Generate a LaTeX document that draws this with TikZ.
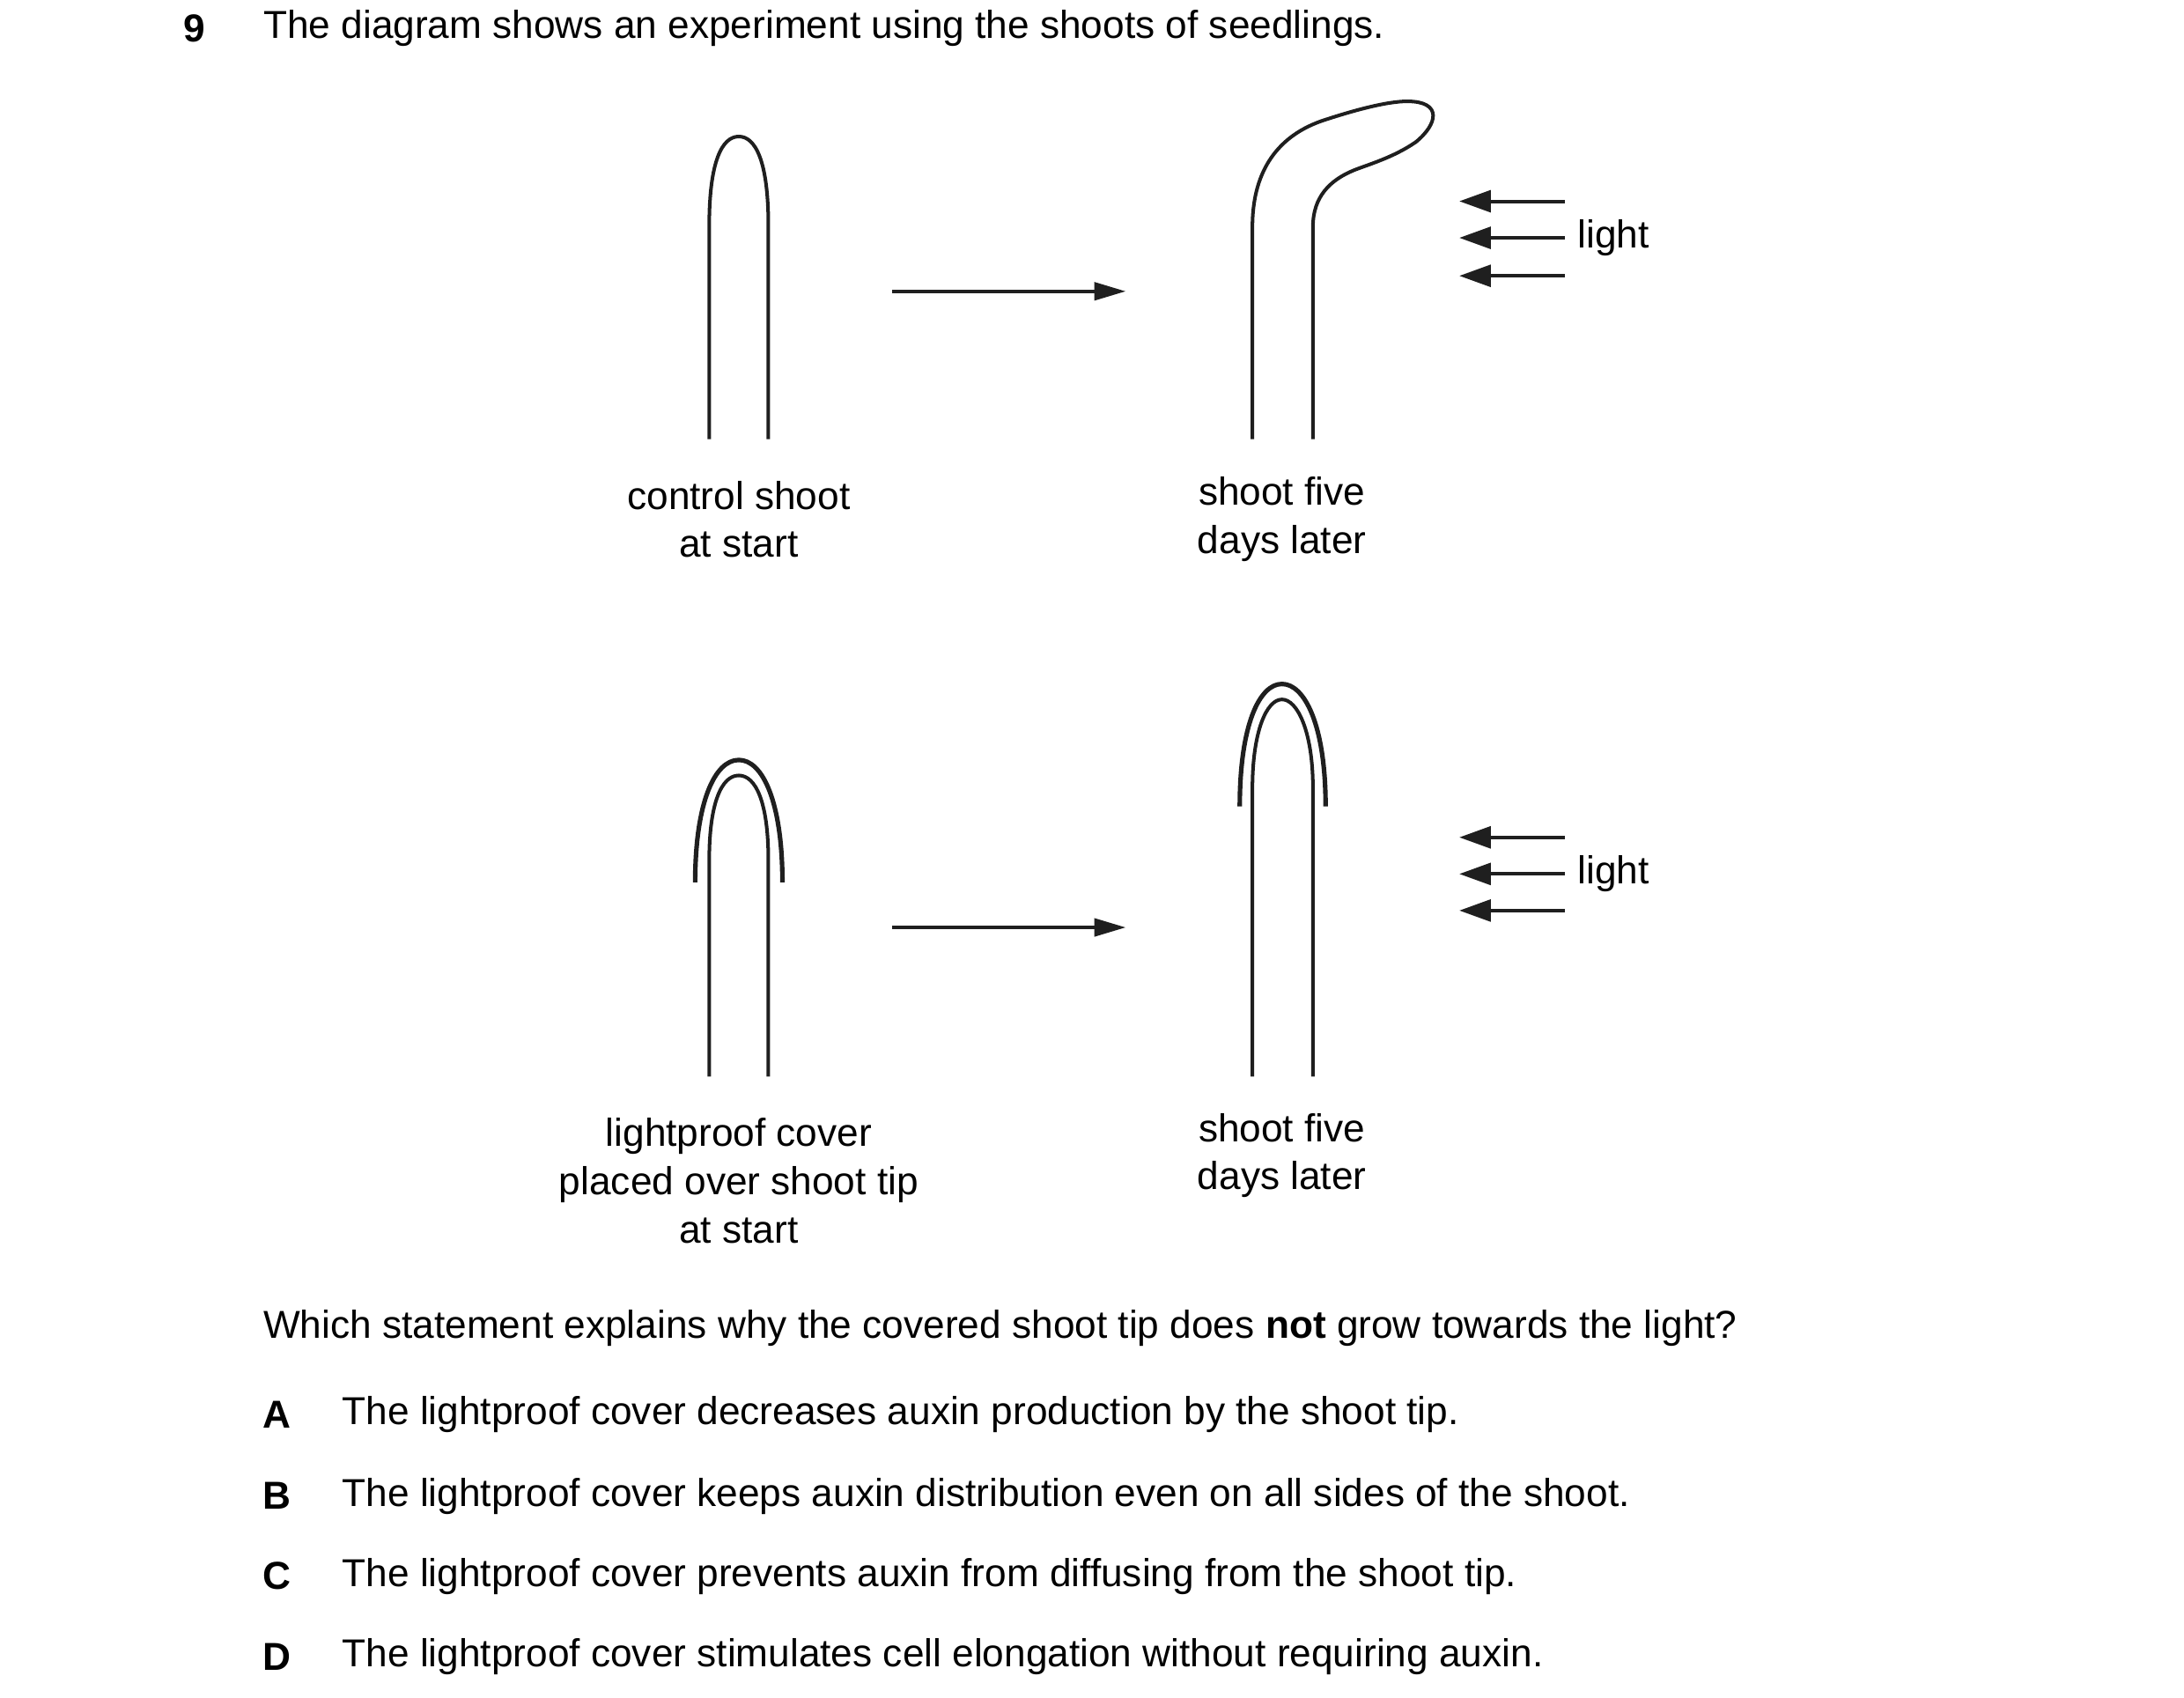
\documentclass[tikz,border=0pt]{standalone}
\usepackage{fontspec}
\setmainfont{Liberation Sans}
\usepackage{tikz}
\usetikzlibrary{arrows.meta}
\tikzset{
    txt/.style = {
      inner sep=0pt,
      font=\fontsize{19.8}{24.5}\selectfont
    },
    lbl/.style = {
      txt,
      align=center
    },
    shoot/.style = {
      line width=1.8pt,
      color=black!88
    },
    cover/.style = {
      line width=2.3pt,
      color=black!88
    },
    later/.style = {
      line width=1.8pt,
      color=black!88,
      -{Triangle[length=16pt,width=9pt]}
    },
    ray/.style = {
      line width=1.8pt,
      color=black!88,
      -{Triangle[length=16pt,width=11pt]}
    }
}
\begin{document}
\begin{tikzpicture}[x=0.0099in,y=-0.0099in]
  \useasboundingbox (0,0) rectangle (1552,1206);

  % heading
  \node[txt, font=\fontsize{19.8}{24.5}\selectfont\bfseries] (num) at (138,20) {9};
  \node[txt, anchor=west] (title) at (187,20) {The diagram shows an experiment using the shoots of seedlings.};

  % top row
  \draw[shoot] (504,312) -- (504,160) .. controls (504,115) and (513,97) .. (525,97)
    .. controls (537,97) and (546,115) .. (546,160) -- (546,312);
  \coordinate (a1) at (634,207);
  \coordinate (a2) at (800,207);
  \draw[later] (a1) -- (a2);
  \draw[shoot] (890,312) -- (890,161) .. controls (890,125) and (905,98) .. (939,86)
    .. controls (960,79) and (985,72) .. (1000,72)
    .. controls (1025,72) and (1022,88) .. (1006,101)
    .. controls (990,112) and (972,117) .. (962,121)
    .. controls (945,128) and (933,140) .. (933,161) -- (933,312);
  \foreach \y [count=\i] in {143,169,196} {
    \coordinate (r\i) at (1112,\y);
    \coordinate (t\i) at (1037,\y);
    \draw[ray] (r\i) -- (t\i);
  }
  \node[txt, anchor=west] (light1) at (1121,169) {light};
  \node[lbl] (ctrl) at (525,369) {control shoot\\at start};
  \node[lbl] (later1) at (911,369) {shoot five\\days later};

  % bottom row
  \draw[shoot] (504,765) -- (504,611) .. controls (504,570) and (513,551) .. (525,551)
    .. controls (537,551) and (546,570) .. (546,611) -- (546,765);
  \draw[cover] (494,627) .. controls (494,570) and (508,540) .. (525,540)
    .. controls (542,540) and (556,570) .. (556,627);
  \coordinate (b1) at (634,659);
  \coordinate (b2) at (800,659);
  \draw[later] (b1) -- (b2);
  \draw[shoot] (890,765) -- (890,560) .. controls (890,520) and (900,497) .. (911,497)
    .. controls (922,497) and (933,520) .. (933,560) -- (933,765);
  \draw[cover] (881,573) .. controls (881,515) and (895,486) .. (911,486)
    .. controls (927,486) and (942,515) .. (942,573);
  \foreach \y [count=\i] in {595,621,647} {
    \coordinate (s\i) at (1112,\y);
    \coordinate (u\i) at (1037,\y);
    \draw[ray] (s\i) -- (u\i);
  }
  \node[txt, anchor=west] (light2) at (1121,621) {light};
  \node[lbl] (covered) at (525,839) {lightproof cover\\placed over shoot tip\\at start};
  \node[lbl] (later2) at (911,821) {shoot five\\days later};

  % question and options
  \node[txt, anchor=west] (question) at (187,944) {Which statement explains why the covered shoot tip does \textbf{not} grow towards the light?};
  \foreach \l/\t/\y in {A/The lightproof cover decreases auxin production by the shoot tip./1005,
      B/The lightproof cover keeps auxin distribution even on all sides of the shoot./1063,
      C/The lightproof cover prevents auxin from diffusing from the shoot tip./1120,
      D/The lightproof cover stimulates cell elongation without requiring auxin./1177} {
    \node[txt, font=\fontsize{19.8}{24.5}\selectfont\bfseries] (key\l) at (197,\y) {\l};
    \node[txt, anchor=west] (opt\l) at (243,\y) {\t};
  }
\end{tikzpicture}
\end{document}
